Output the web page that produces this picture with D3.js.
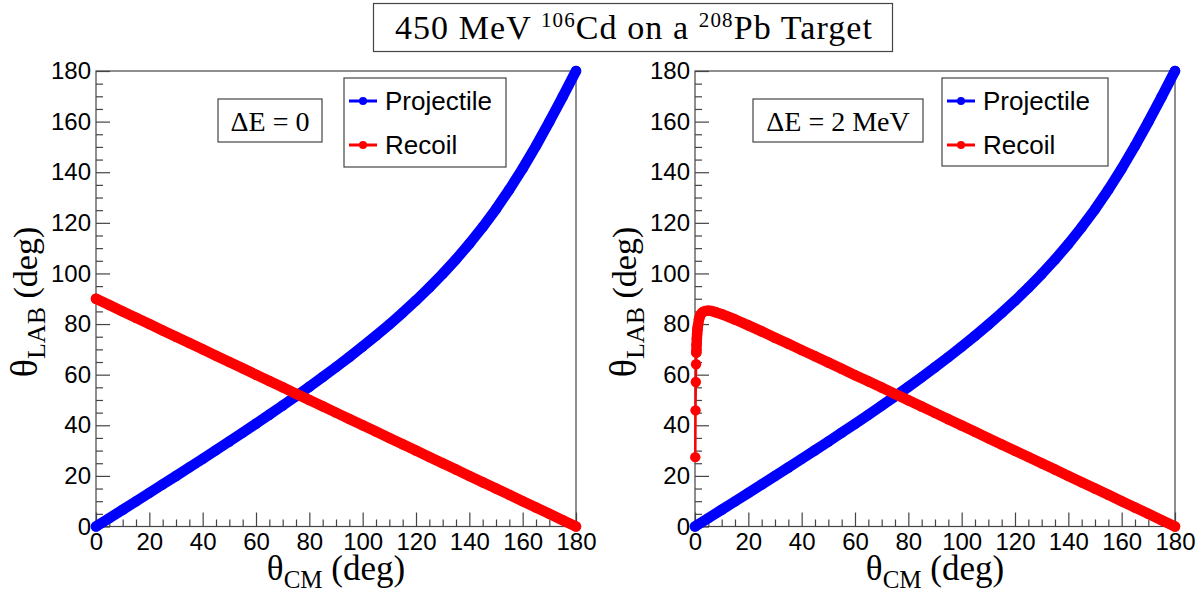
<!DOCTYPE html>
<html><head><meta charset="utf-8">
<script src="https://cdn.jsdelivr.net/npm/d3@7"></script>
<style>body{margin:0;background:#fff} svg{display:block}</style>
</head><body>
<svg id="c" width="1204" height="594"></svg>
<script>
// ---- data ----
const thetaCM = [0,5,10,15,20,25,30,35,40,45,50,55,60,65,70,75,80,85,90,95,100,105,110,115,120,125,130,135,140,145,150,155,160,165,170,175,180];
const projectileLeft = [0,3.31,6.63,9.95,13.27,16.62,19.97,23.34,26.74,30.16,33.60,37.09,40.61,44.18,47.80,51.48,55.23,59.06,62.98,67.00,71.14,75.42,79.86,84.49,89.34,94.44,99.84,105.57,111.72,118.33,125.45,133.16,141.48,150.42,159.92,169.83,180];
const recoilLeft = [90,87.5,85,82.5,80,77.5,75,72.5,70,67.5,65,62.5,60,57.5,55,52.5,50,47.5,45,42.5,40,37.5,35,32.5,30,27.5,25,22.5,20,17.5,15,12.5,10,7.5,5,2.5,0];
const projectileRight = [0,3.30,6.62,9.94,13.26,16.60,19.95,23.32,26.71,30.13,33.57,37.05,40.57,44.13,47.75,51.43,55.17,59.00,62.92,66.94,71.07,75.35,79.78,84.41,89.25,94.36,99.76,105.49,111.65,118.27,125.35,133.10,141.43,150.38,159.90,169.82,180];
const thetaCMRecoilRight = [0.1,0.2,0.3,0.4,0.5,0.6,0.7,0.8,0.9,1,1.5,2,2.5,3,4,5,6,8,10,15,20,25,30,35,40,45,50,55,60,65,70,75,80,85,90,95,100,105,110,115,120,125,130,135,140,145,150,155,160,165,170,175,180];
const recoilRight = [27.4,45.9,57.1,64.1,68.7,71.9,74.3,76.1,77.5,78.6,81.9,83.5,84.3,84.8,85.2,85.3,85.2,84.6,83.9,81.8,79.5,77.1,74.6,72.2,69.7,67.3,64.8,62.3,59.8,57.4,54.9,52.4,49.9,47.4,44.9,42.4,39.9,37.4,34.9,32.4,29.9,27.5,25.0,22.5,20.0,17.5,15.0,12.5,10.0,7.5,5.0,2.5,0];
const majorTicks = [0,20,40,60,80,100,120,140,160,180];
const minorTicks = [5,10,15,25,30,35,45,50,55,65,70,75,85,90,95,105,110,115,125,130,135,145,150,155,165,170,175];
const legendLabels = ["Projectile","Recoil"];
const panelNotes = ["\u0394E = 0","\u0394E = 2 MeV"];
const seriesColors = ["#0000ff","#ff0000"];

// ---- drawing ----
const svg = d3.select('#c');
const SANS = "'Liberation Sans', Arial, sans-serif";
const SERIF = "'Liberation Serif', 'Times New Roman', serif";
const FRAME = '#444';

// title
const title = svg.append('g');
title.append('rect').attr('x',373.5).attr('y',3.5).attr('width',519).attr('height',48)
  .attr('fill','#fff').attr('stroke',FRAME).attr('stroke-width',1.2);
const tt = title.append('text').attr('x',634).attr('y',39).attr('text-anchor','middle')
  .attr('font-family',SERIF).attr('font-size',34).attr('letter-spacing',1.1).attr('fill','#000');
tt.append('tspan').text('450 MeV ');
tt.append('tspan').attr('font-size',21).attr('dy',-12).text('106');
tt.append('tspan').attr('dy',12).text('Cd on a ');
tt.append('tspan').attr('font-size',21).attr('dy',-12).text('208');
tt.append('tspan').attr('dy',12).text('Pb Target');

const panels = [
  {x0:96, series:[{xs:thetaCM, ys:projectileLeft, band:0},{xs:thetaCM, ys:recoilLeft, band:0}], note:panelNotes[0],
   noteBox:[218,99,104,43], legend:[344,78,162,89]},
  {x0:695, series:[{xs:thetaCM, ys:projectileRight, band:0},{xs:thetaCMRecoilRight, ys:recoilRight, band:4}], note:panelNotes[1],
   noteBox:[753,99,170,43], legend:[942,78,166,88]}
];

const Y0 = 526.5, Y1 = 71, W = 480;

panels.forEach(p => {
  const x = d3.scaleLinear().domain([0,180]).range([p.x0, p.x0+W]);
  const y = d3.scaleLinear().domain([0,180]).range([Y0, Y1]);
  const g = svg.append('g');

  g.append('rect').attr('x',p.x0).attr('y',Y1).attr('width',W).attr('height',Y0-Y1)
    .attr('fill','none').attr('stroke',FRAME).attr('stroke-width',1.2);

  const styleAxis = s => {
    s.select('.domain').remove();
    s.selectAll('.tick line').attr('stroke',FRAME).attr('stroke-width',1.2);
    s.selectAll('.tick text').attr('font-family',SANS).attr('font-size',24).attr('fill','#000');
  };
  // x axis
  g.append('g').attr('transform',`translate(0,${Y0})`)
    .call(d3.axisBottom(x).tickValues(minorTicks).tickSize(-7).tickFormat('')).call(styleAxis);
  g.append('g').attr('transform',`translate(0,${Y0})`)
    .call(d3.axisBottom(x).tickValues(majorTicks).tickSizeInner(-14).tickSizeOuter(0).tickPadding(6).tickFormat(d3.format('d')))
    .call(styleAxis);
  // y axis
  g.append('g').attr('transform',`translate(${p.x0},0)`)
    .call(d3.axisLeft(y).tickValues(minorTicks).tickSize(-7).tickFormat('')).call(styleAxis);
  g.append('g').attr('transform',`translate(${p.x0},0)`)
    .call(d3.axisLeft(y).tickValues(majorTicks).tickSizeInner(-14).tickSizeOuter(0).tickPadding(5).tickFormat(d3.format('d')))
    .call(styleAxis);

  // axis titles
  const xt = g.append('text').attr('x',p.x0+W/2).attr('y',580).attr('text-anchor','middle')
    .attr('font-family',SERIF).attr('font-size',35).attr('fill','#000');
  xt.append('tspan').text('\u03B8');
  xt.append('tspan').attr('font-size',25).attr('dy',8).text('CM');
  xt.append('tspan').attr('dy',-8).text(' (deg)');

  const yt = g.append('text').attr('transform',`translate(${p.x0-59},302) rotate(-90)`).attr('text-anchor','middle')
    .attr('font-family',SERIF).attr('font-size',34).attr('fill','#000');
  yt.append('tspan').attr('font-size',38).text('\u03B8');
  yt.append('tspan').attr('font-size',26).attr('dy',8).text('LAB');
  yt.append('tspan').attr('dy',-8).text(' (deg)');

  // series
  p.series.forEach((s, i) => {
    const pts = s.xs.map((v,k) => [x(v), y(s.ys[k])]);
    const line = d3.line();
    const col = seriesColors[i];
    g.append('path').attr('d', line(pts)).attr('fill','none').attr('stroke',col).attr('stroke-width',2.5);
    g.append('path').attr('d', line(pts.slice(s.band))).attr('fill','none').attr('stroke',col)
      .attr('stroke-width',10.5).attr('stroke-linejoin','round').attr('stroke-linecap','round');
    g.selectAll(null).data(pts).enter().append('circle')
      .attr('cx',d=>d[0]).attr('cy',d=>d[1]).attr('r',5.2).attr('fill',col);
  });

  // note box
  const [nx,ny,nw,nh] = p.noteBox;
  g.append('rect').attr('x',nx).attr('y',ny).attr('width',nw).attr('height',nh)
    .attr('fill','#fff').attr('stroke',FRAME).attr('stroke-width',1.2);
  g.append('text').attr('x',nx+nw/2).attr('y',ny+nh/2+10).attr('text-anchor','middle')
    .attr('font-family',SERIF).attr('font-size',28).attr('fill','#000').text(p.note);

  // legend
  const [lx,ly,lw,lh] = p.legend;
  g.append('rect').attr('x',lx).attr('y',ly).attr('width',lw).attr('height',lh)
    .attr('fill','#fff').attr('stroke',FRAME).attr('stroke-width',1.2);
  legendLabels.forEach((lab,i) => {
    const cy = ly + 23 + i*44;
    g.append('line').attr('x1',lx+5).attr('x2',lx+33).attr('y1',cy).attr('y2',cy)
      .attr('stroke',seriesColors[i]).attr('stroke-width',3);
    g.append('circle').attr('cx',lx+19).attr('cy',cy).attr('r',4).attr('fill',seriesColors[i]);
    g.append('text').attr('x',lx+41).attr('y',cy+9).attr('font-family',SANS).attr('font-size',26)
      .attr('fill','#000').text(lab);
  });
});
</script>
</body></html>
